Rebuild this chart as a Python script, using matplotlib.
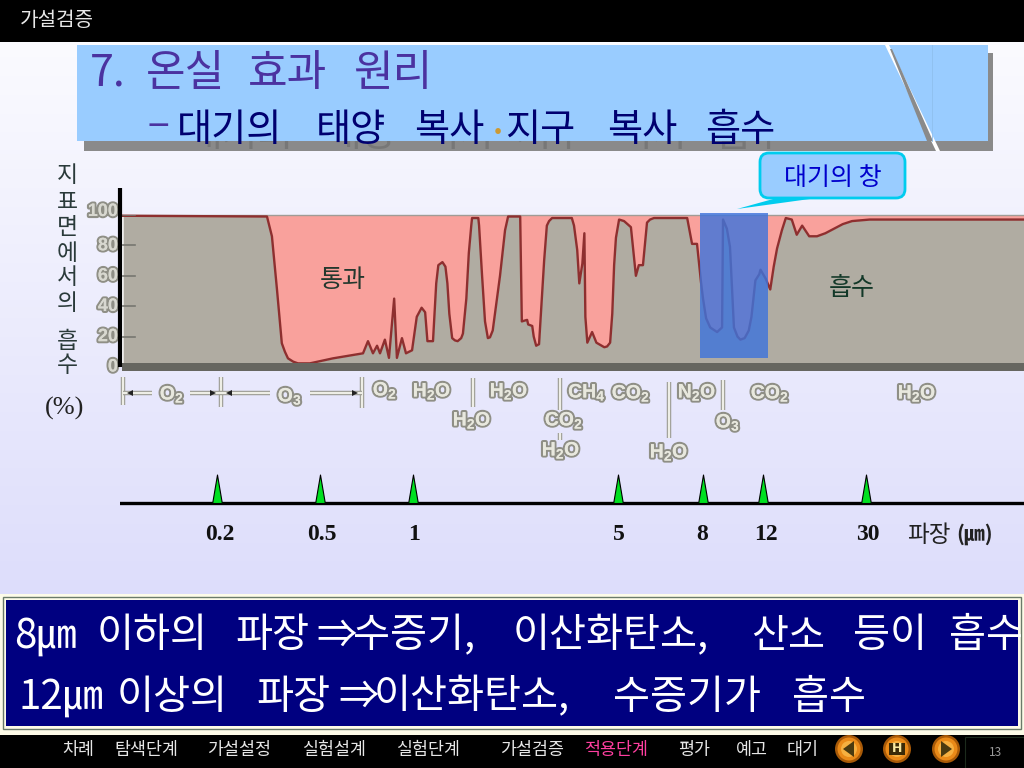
import numpy as np
import matplotlib
matplotlib.use('Agg')
import matplotlib.pyplot as plt
import matplotlib.patheffects as pe
from matplotlib.patches import Rectangle, FancyBboxPatch, Polygon, Circle
from matplotlib.path import Path

plt.rcParams['font.family'] = ['Noto Sans CJK KR', 'DejaVu Sans']
plt.rcParams['mathtext.fontset'] = 'custom'
plt.rcParams['mathtext.rm'] = 'Liberation Sans:bold'

# spectrum: wavelength (um) / absorption at ground (%)
wavelength = [0.0867, 0.312, 0.326, 0.341, 0.356, 0.366, 0.376, 0.394, 0.411, 0.457, 0.551, 0.689,
              0.715, 0.742, 0.765, 0.782, 0.811, 0.836, 0.869, 0.887, 0.921, 0.949, 0.993, 1.03,
              1.07, 1.10, 1.12, 1.17, 1.20, 1.22, 1.24, 1.26, 1.29, 1.31, 1.33, 1.36,
              1.39, 1.42, 1.46, 1.48, 1.52, 1.55, 1.58, 1.59, 1.67, 1.68, 1.72, 1.76,
              1.80, 1.83, 1.87, 1.98, 2.06, 2.11, 2.32, 2.35, 2.45, 2.47, 2.55, 2.58,
              2.63, 2.69, 2.74, 2.80, 2.86, 2.91, 2.98, 3.48, 3.54, 3.63, 3.69, 3.78,
              3.84, 3.87, 3.93, 4.08, 4.22, 4.35, 4.49, 4.59, 4.70, 4.78, 4.85, 4.92,
              5.03, 5.17, 5.37, 5.52, 5.61, 5.74, 5.87, 5.97, 6.10, 7.33, 7.53, 7.74,
              7.91, 8.0, 8.17, 8.40, 8.80, 9.10, 9.16, 9.40, 9.60, 9.86, 10.1, 10.3,
              10.6, 10.9, 11.1, 11.4, 11.7, 11.8, 12.3, 12.8, 13.2, 13.6, 14.2, 14.7,
              15.5, 16.2, 17.0, 18.1, 19.4, 20.9, 22.6, 24.4, 26.5, 31, 37.5, 122]
absorption = [99.5, 99, 86, 51, 15.6, 10, 5.7, 3.5, 2.4, 2.4, 5.7, 9,
              17, 9, 14, 9, 18, 6, 45, 6, 19, 9, 11, 33,
              39, 36, 17, 17, 55, 67, 68, 69, 66, 55, 35, 19,
              17.5, 17, 19, 22, 45, 75, 93, 98, 98, 93, 60, 30,
              19, 19.5, 24, 60, 90, 99, 99, 30, 31, 28, 27, 20,
              14, 15, 40, 70, 93, 96, 98, 98, 93, 77, 55, 68,
              88, 33, 16, 23, 16, 14.5, 13, 13.5, 16, 35, 67, 85,
              97, 96, 92, 60, 67, 67, 95, 97, 98, 98, 81, 81,
              56, 45, 32, 26, 23, 26, 97, 91, 79, 26, 20, 18,
              19, 24, 33, 57, 61, 64, 58, 51, 66, 78, 90, 98,
              97, 87, 93, 86, 86, 88, 91, 94, 96, 97, 97, 97]

scale_um = [0.0843, 0.2, 0.5, 1, 5, 8, 12, 30, 122]
scale_pos = [120, 217, 320, 413, 618, 703, 763, 866, 1024]
tick_um = [0.2, 0.5, 1, 5, 8, 12, 30]
tick_label_dx = [3, 2, 1, 1, -1, 3, 2]
y_ticks = [0, 20, 40, 60, 80, 100]
band_um = [7.85, 12.5]

gas_labels = [r'$\mathrm{O_2}$', r'$\mathrm{O_3}$', r'$\mathrm{O_2}$', r'$\mathrm{H_2O}$', r'$\mathrm{H_2O}$',
              r'$\mathrm{H_2O}$', r'$\mathrm{CH_4}$', r'$\mathrm{CO_2}$', r'$\mathrm{CO_2}$', r'$\mathrm{H_2O}$',
              r'$\mathrm{N_2O}$', r'$\mathrm{O_3}$', r'$\mathrm{CO_2}$', r'$\mathrm{H_2O}$', r'$\mathrm{H_2O}$']
gas_x = [172, 290, 385, 432, 472, 509, 587, 631, 564, 561, 697, 728, 770, 669, 917]
gas_y = [394, 396, 390, 391, 420, 391, 392, 393, 420, 450, 392, 422, 393, 452, 393]

nav_items = ['차례', '탐색단계', '가설설정', '실험설계', '실험단계', '가설검증', '적용단계', '평가', '예고', '대기']
nav_x = [78, 146, 239, 334, 428, 532, 616, 694, 752, 803]

title_words = ['7.', '온실', '효과', '원리']
title_x = [90, 146, 248, 353]
sub_words = ['대기의', '태양', '복사', '지구', '복사', '흡수']
sub_x = [177, 316, 414, 505, 607, 705]
line1_words = ['8㎛', '이하의', '파장', '⇒', '수증기,', '이산화탄소,', '산소', '등이', '흡수']
line1_x = [14, 97, 235, 316, 353, 513, 751, 853, 949]
line2_words = ['12㎛', '이상의', '파장', '⇒', '이산화탄소,', '수증기가', '흡수']
line2_x = [18, 117, 256, 338, 374, 613, 792]


def forward(x):
    return np.interp(np.log10(np.clip(x, 1e-3, None)), np.log10(scale_um), scale_pos)


def inverse(p):
    return 10 ** np.interp(p, scale_pos, np.log10(scale_um))


def axes_px(left, top, right, bottom, **kw):
    return fig.add_axes([left / 1024, (768 - bottom) / 768, (right - left) / 1024, (bottom - top) / 768], **kw)


fig = plt.figure(figsize=(10.24, 7.68), dpi=100)

# --- background gradient ---
bg = fig.add_axes([0, 0, 1, 1], zorder=0)
bg.axis('off')
grad = np.linspace(0, 1, 256).reshape(-1, 1, 1)
top_c = np.array([253, 253, 255]) / 255
bot_c = np.array([212, 212, 250]) / 255
bg.imshow(top_c + (bot_c - top_c) * grad, aspect='auto', extent=[0, 1, 0, 1], origin='upper')

# --- spectrum ---
ax = axes_px(120, 215, 1024, 367, zorder=1)
ax.set_xscale('function', functions=(forward, inverse))
ax.set_xlim(scale_um[0], scale_um[-1])
ax.set_ylim(0, 100)
ax.fill_between(wavelength, absorption, 100, color='#f9a19c', lw=0)
ax.fill_between(wavelength, 0, absorption, color='#b0aca2', lw=0)
ax.plot(wavelength, absorption, color='#8e2f2f', lw=1.7, clip_on=False, zorder=3, solid_joinstyle='round')
ax.axhline(100, color='#a09c96', lw=1, zorder=2, clip_on=False)
ax.set_xticks([])
ax.set_yticks([])
for s in ax.spines.values():
    s.set_visible(False)
for t in y_ticks[1:]:
    ax.plot([0.0867, 0.0965], [t, t], color='#777770', lw=1.2, zorder=4)
ax.axvspan(band_um[0], band_um[1], ymin=0.06, ymax=1.01, color='#3f74db', alpha=0.82, lw=0, zorder=5, clip_on=False)

# --- wavelength axis ---
wax = axes_px(120, 460, 1024, 550, zorder=1)
wax.set_xscale('function', functions=(forward, inverse))
wax.set_xlim(scale_um[0], scale_um[-1])
wax.set_ylim(550, 460)
wax.axis('off')
wax.axhline(503, color='black', lw=2.4)
tri = Path([(-0.17, 0), (0.17, 0), (0, 1), (-0.17, 0)], closed=True)
wax.plot(tick_um, [503] * len(tick_um), ls='none', marker=tri, ms=41, mfc='#00e020', mec='black', mew=0.8)

# --- overlay in picture pixels ---
ov = fig.add_axes([0, 0, 1, 1], zorder=3)
ov.set_xlim(0, 1024)
ov.set_ylim(768, 0)
ov.axis('off')
ov.patch.set_alpha(0)

for tx, dx in zip(tick_um, tick_label_dx):
    ov.text(forward(tx) + dx, 534, str(tx), ha='center', va='center', fontsize=17, fontweight='bold',
            family='Liberation Serif', color='#111111')
ov.text(907, 536, '파장', ha='left', va='center', fontsize=17, color='#222222')
ov.text(956, 534, '(㎛)', ha='left', va='center', fontsize=15, color='#222222', fontweight='bold')

# header / footer
ov.add_patch(Rectangle((0, 0), 1024, 42, color='black', lw=0))
ov.text(20, 20, '가설검증', color='#e8e8e8', fontsize=14.5, va='center')
ov.add_patch(Rectangle((0, 735), 1024, 33, color='black', lw=0))
ov.add_patch(Rectangle((965, 737), 59, 31, fc='black', ec='#1c2a1c', lw=0.8))
ov.text(995, 752, '13', color='#999999', fontsize=8.5, ha='center', va='center')
for name, x in zip(nav_items, nav_x):
    col = '#ff3fa0' if name == '적용단계' else '#e6e6e6'
    ov.text(x, 750, name, color=col, fontsize=12.5, ha='center', va='center')
for i, x in enumerate([849, 897, 946]):
    ov.add_patch(Circle((x, 749), 14, fc='#a85a08', ec='none'))
    ov.add_patch(Circle((x, 749), 11.5, fc='#ea8a18', ec='none'))
    ov.add_patch(Circle((x, 749), 8, fc='#f6b040', ec='none'))
    if i == 0:
        ov.add_patch(Polygon([(x + 5, 741), (x + 5, 757), (x - 6, 749)], fc='#4a3a10', lw=0))
    elif i == 2:
        ov.add_patch(Polygon([(x - 5, 741), (x - 5, 757), (x + 6, 749)], fc='#4a3a10', lw=0))
    else:
        ov.add_patch(Rectangle((x - 8, 743), 16, 12, fc='#3a2a08', lw=0))
        ov.text(x, 748.5, 'H', color='#f8e8a0', fontsize=9, fontweight='bold', ha='center', va='center',
                family='DejaVu Sans', zorder=5)

# title panel
ov.add_patch(Rectangle((84, 53), 909, 98, color='#8a8a8a', lw=0))
ghost_clip = Rectangle((84, 141), 909, 10, transform=ov.transData)
for w, x in zip(sub_words, sub_x):
    g = ov.text(x + 10, 135, w, fontsize=28, va='center', color='#777777', zorder=1.5, clip_on=True)
    g.set_clip_path(ghost_clip)
ov.add_patch(Rectangle((77, 45), 911, 96, color='#99ccff', lw=0, zorder=1.6))
ov.add_patch(Polygon([(885, 45), (889, 45), (940, 151), (936, 151)], fc='white', lw=0, zorder=1.7))
ov.add_patch(Polygon([(890, 49), (892, 49), (933, 141), (927, 141)], fc='#8a8a8a', lw=0, zorder=1.7))
ov.plot([932, 932], [45, 141], color='#8fbfee', lw=0.6, zorder=1.7)
for w, x in zip(title_words, title_x):
    ov.text(x, 74, w, fontsize=31, va='center', color='#4b32a0')
ov.text(148, 128, '−', fontsize=28, va='center', color='#4b32a0')
for w, x in zip(sub_words, sub_x):
    ov.text(x, 131, w, fontsize=27.5, va='center', color='#000070', clip_on=True)
ov.text(498, 134, '·', fontsize=22, va='center', ha='center', color='#cc9933', fontweight='bold')

# y axis text and line
ov.plot([120, 120], [188, 367], color='black', lw=3, solid_capstyle='butt', zorder=4)
ov.add_patch(Rectangle((122, 363), 902, 8, color='#666660', lw=0))
for ch, y in zip('지표면에서의흡수', [176, 202, 228, 253, 278, 303, 341, 366]):
    ov.text(67, y, ch, fontsize=16.5, ha='center', va='center', color='#2a3a3a')
ov.text(65, 408, '(%)', fontsize=19, ha='center', va='center', color='#222222', family='Liberation Serif')
halo = [pe.withStroke(linewidth=3, foreground='#8f8f86'), pe.Normal()]
for t in y_ticks:
    ov.text(118, 367 - 1.515 * t - (4 if t == 100 else 0), str(t), fontsize=13, ha='right', va='center',
            fontweight='bold', color='#d8d8d0', path_effects=halo, family='Liberation Sans', zorder=3)

# gas labels and range bars
for lab, x, y in zip(gas_labels, gas_x, gas_y):
    ov.text(x, y, lab, fontsize=14, ha='center', va='center', color='#e8e8de', path_effects=halo)
bar_fx = [pe.Stroke(linewidth=3.2, foreground='#9a9a92'), pe.Stroke(linewidth=1.6, foreground='#eeeee6'), pe.Normal()]
for x0, y0, x1, y1 in [(123, 377, 123, 405), (221, 377, 221, 407), (362, 377, 362, 408), (473, 378, 473, 407),
                       (560, 378, 560, 410), (560, 433, 560, 440), (669, 382, 669, 438), (723, 380, 723, 410),
                       (123, 393, 152, 393), (190, 393, 221, 393), (221, 393, 270, 393), (310, 393, 362, 393)]:
    ov.plot([x0, x1], [y0, y1], color='#eeeee6', lw=1.2, path_effects=bar_fx, solid_capstyle='butt')
for x, m in [(130, '<'), (213, '>'), (229, '<'), (355, '>')]:
    ov.plot(x, 393, marker=m, ms=4, color='#222222', mew=0)

ov.text(343, 280, '통과', fontsize=18, ha='center', va='center', color='#24382e')
ov.text(852, 288, '흡수', fontsize=18, ha='center', va='center', color='#123828')

# callout
ov.add_patch(Polygon([(737, 209), (784, 196), (817, 198)], fc='#00ccee', lw=0))
ov.add_patch(FancyBboxPatch((760, 153), 145, 45, boxstyle='round,pad=0,rounding_size=9',
                            fc='#99ccff', ec='#00ccee', lw=2))
ov.text(833, 178, '대기의 창', fontsize=18, ha='center', va='center', color='#0000cc')

# bottom box
ov.add_patch(Rectangle((0, 594), 1024, 141, color='#fdfbe8', lw=0))
ov.add_patch(Rectangle((3, 597), 1018, 132, fc='none', ec='#6a7a6a', lw=1))
ov.add_patch(Rectangle((6, 600), 1012, 126, fc='#000080', ec='none'))
for w, x in zip(line1_words, line1_x):
    ov.text(x, 636, w, fontsize=29, va='center', color='white', clip_on=True)
for w, x in zip(line2_words, line2_x):
    ov.text(x, 697, w, fontsize=29, va='center', color='white')

fig.savefig('out.png', dpi=100)
